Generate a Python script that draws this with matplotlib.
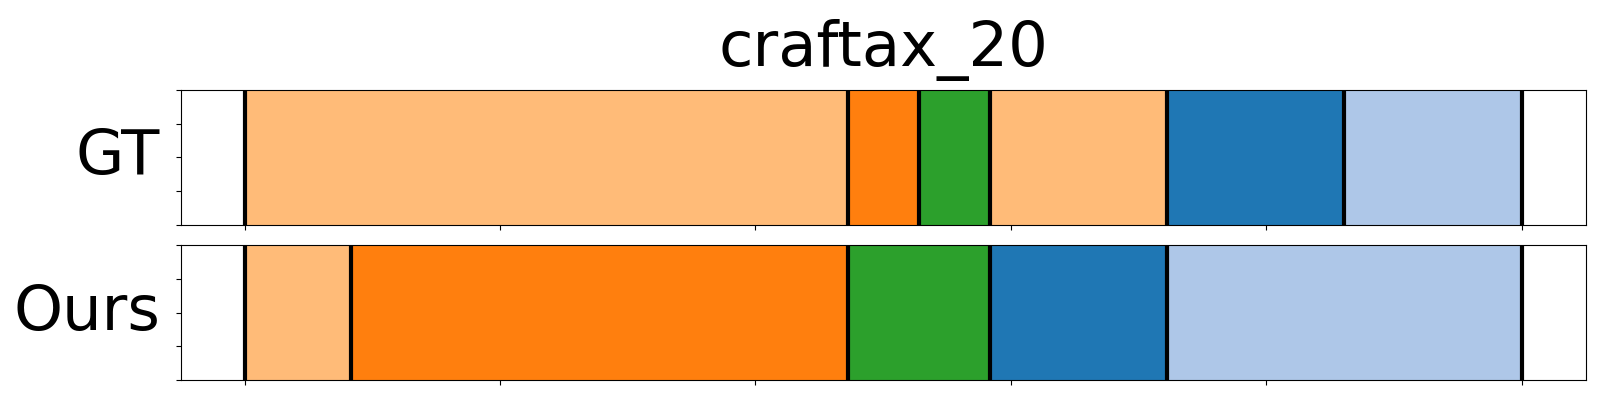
import numpy as np
import matplotlib
matplotlib.use("Agg")
import matplotlib.pyplot as plt

# Segment data: (label colour index, length in frames) for a 36-frame episode
n_frames = 36
title = "craftax_20"
row_names = ["GT", "Ours"]
gt_labels = [1, 0, 2, 1, 3, 4]
gt_lengths = [17, 2, 2, 5, 5, 5]
ours_labels = [1, 0, 2, 3, 4]
ours_lengths = [3, 14, 4, 5, 10]

palette = ["#ff7f0e", "#ffbb78", "#2ca02c", "#1f77b4", "#aec7e8"]

fig, axes = plt.subplots(2, 1, figsize=(16, 4), dpi=100)
fig.subplots_adjust(left=0.113, right=0.991, top=0.775, bottom=0.05, hspace=0.15)

rows = [(gt_labels, gt_lengths), (ours_labels, ours_lengths)]
for ax, name, (labels, lengths) in zip(axes, row_names, rows):
    edges = np.concatenate([[0], np.cumsum(lengths)]) / n_frames
    for lab, x0, x1 in zip(labels, edges[:-1], edges[1:]):
        ax.axvspan(x0, x1, color=palette[lab], lw=0.8)
    for x in edges:
        ax.axvline(x, color="black", lw=3)
    ax.set_xlim(-0.05, 1.05)
    ax.set_ylim(0, 1)
    ax.set_xticks(np.linspace(0, 1, 6))
    ax.set_yticks(np.linspace(0, 1, 5))
    ax.set_xticklabels([])
    ax.set_yticklabels([])
    ax.set_ylabel(name, rotation=0, fontsize=45, ha="right", va="center",
                  labelpad=8)

axes[0].set_title(title, fontsize=45, pad=17)

fig.savefig("out.png", dpi=100)
